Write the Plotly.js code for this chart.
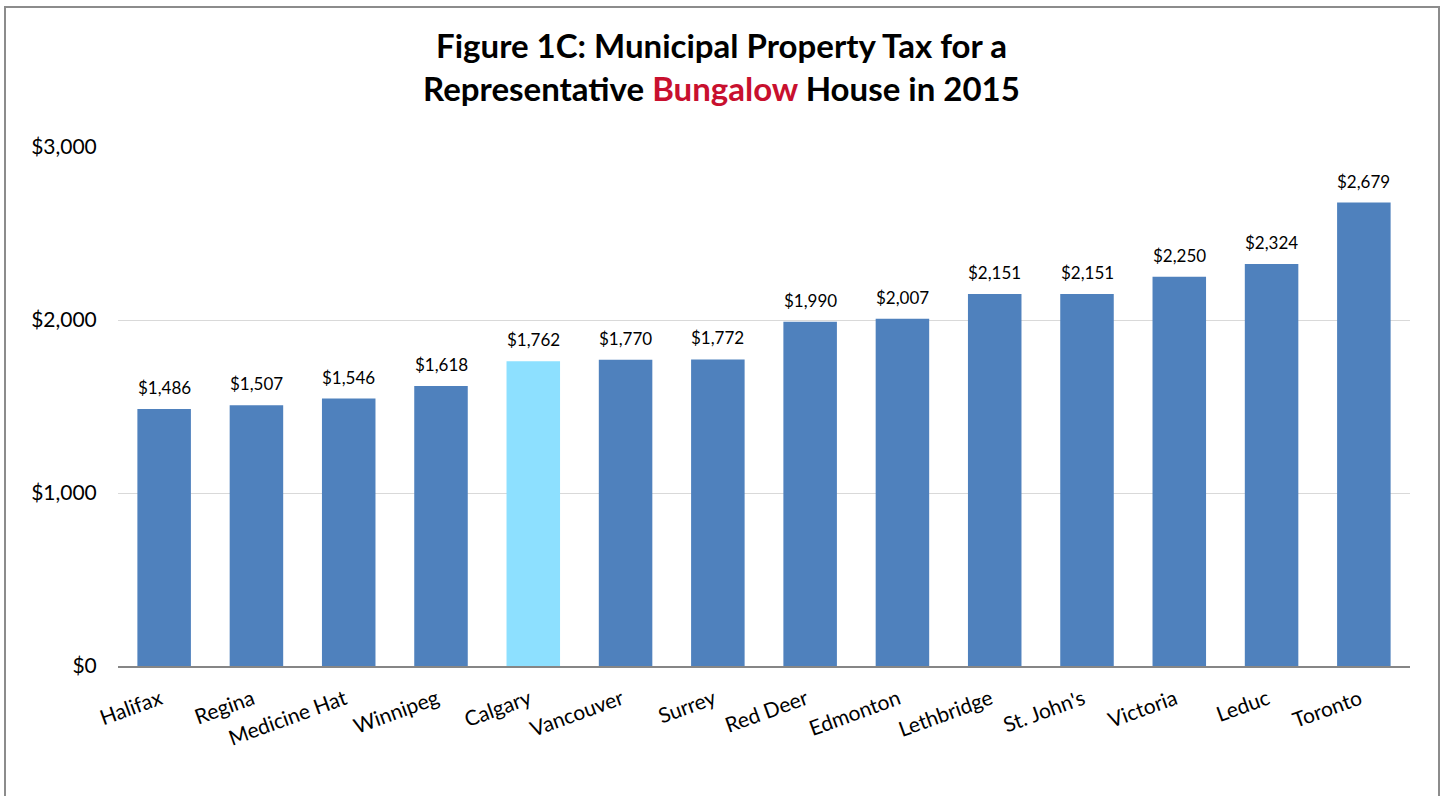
<!DOCTYPE html>
<html>
<head>
<meta charset="utf-8">
<script src="https://cdn.plot.ly/plotly-3.0.1.min.js"></script>
<style>
  html, body { margin: 0; padding: 0; background: #ffffff; }
  #chart { position: absolute; left: 0; top: 0; width: 1443px; height: 796px; }
  #frame { position: absolute; left: 4px; top: 6px; width: 1432px; height: 800px;
           border-top: 2px solid #8c8c8c; border-left: 2px solid #8c8c8c; border-right: 2px solid #8c8c8c;
           pointer-events: none; }
</style>
</head>
<body>
<div id="chart"></div>
<div id="frame"></div>
<script>
const cities = ["Halifax", "Regina", "Medicine Hat", "Winnipeg", "Calgary", "Vancouver", "Surrey",
                "Red Deer", "Edmonton", "Lethbridge", "St. John's", "Victoria", "Leduc", "Toronto"];
const taxes = [1486, 1507, 1546, 1618, 1762, 1770, 1772, 1990, 2007, 2151, 2151, 2250, 2324, 2679];
const highlightCity = "Calgary";
const yTickValues = [0, 1000, 2000, 3000];
const yTickLabels = ["$0", "$1,000", "$2,000", "$3,000"];

const barColors = cities.map(c => c === highlightCity ? "#8DE0FF" : "#4F81BD");
const labels = taxes.map(v => "$" + v.toLocaleString("en-US"));

const FONT = "Lato, Carlito, Calibri, sans-serif";

const trace = {
  type: "bar",
  x: cities,
  y: taxes,
  marker: { color: barColors },
  hoverinfo: "skip",
  width: 0.58
};

const annotations = cities.map((c, i) => ({
  x: c,
  y: taxes[i],
  xref: "x",
  yref: "y",
  text: labels[i],
  showarrow: false,
  yanchor: "bottom",
  yshift: 9,
  font: { family: FONT, size: 17, color: "#000000" }
}));

const layout = {
  width: 1443,
  height: 796,
  margin: { l: 118, r: 33, t: 147, b: 130 },
  paper_bgcolor: "#ffffff",
  plot_bgcolor: "#ffffff",
  showlegend: false,
  font: { family: FONT, color: "#000000" },
  annotations: annotations,
  title: {
    text: "<b>Figure 1C: Municipal Property Tax for a<br>Representative <span style=\"color:#C8102E\">Bungalow</span> House in 2015</b>",
    font: { family: FONT, size: 33, color: "#000000" },
    x: 0.5,
    xanchor: "center",
    xref: "container",
    yref: "container",
    y: 1 - 58 / 796,
    yanchor: "middle"
  },
  xaxis: {
    type: "category",
    tickangle: -20,
    tickfont: { family: FONT, size: 21, color: "#000000" },
    ticklabelshift: -4,
    ticklabelstandoff: 11,
    showline: true,
    linecolor: "#868686",
    linewidth: 2,
    ticks: "",
    showgrid: false,
    automargin: false
  },
  yaxis: {
    range: [0, 3000],
    tickvals: yTickValues,
    ticktext: yTickLabels,
    tickfont: { family: FONT, size: 21, color: "#000000" },
    showgrid: true,
    gridcolor: "#D9D9D9",
    gridwidth: 1,
    zeroline: false,
    showline: false,
    ticks: "outside",
    ticklen: 16,
    tickcolor: "rgba(0,0,0,0)",
    automargin: false
  }
};

Plotly.newPlot("chart", [trace], layout, { staticPlot: true, displayModeBar: false });
</script>
</body>
</html>
